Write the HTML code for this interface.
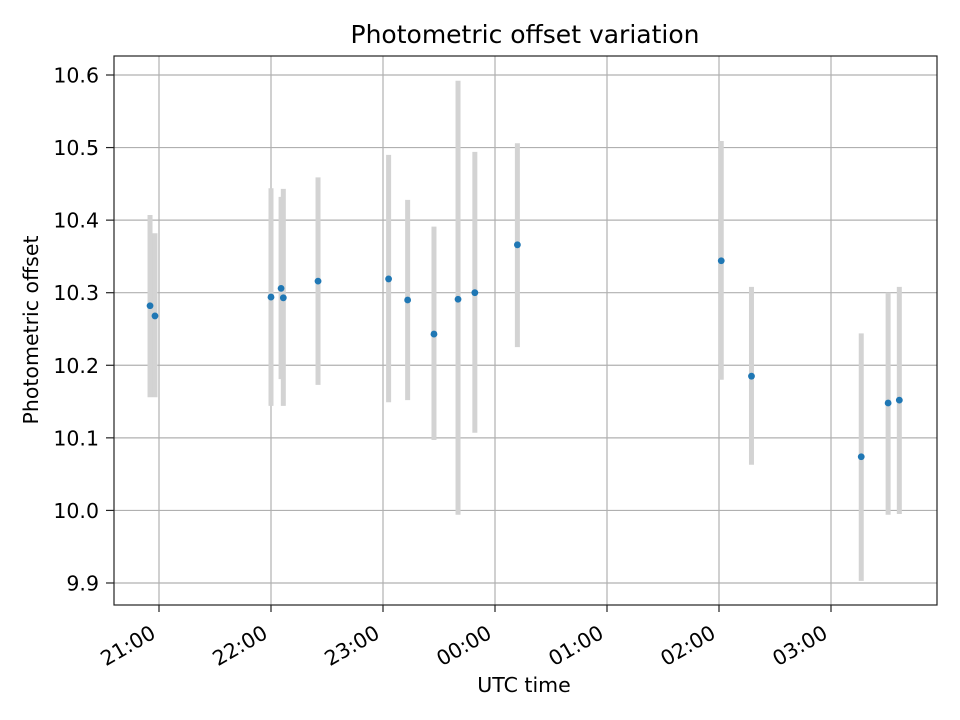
<!DOCTYPE html>
<html><head><meta charset="utf-8"><style>
body{margin:0;background:#fff;}
svg{display:block;font-family:"DejaVu Sans","Liberation Sans",sans-serif;}
</style></head><body>
<svg id="chart" width="960" height="720">
<rect width="960" height="720" fill="#fff"/>
<text x="525" y="43" font-size="25" text-anchor="middle">Photometric offset variation</text>
<g id="grid"></g><g id="bars"></g><g id="pts"></g><g id="axes"></g>
<rect x="114" y="56" width="823" height="549" fill="none" stroke="#222" stroke-width="1.2"/>
<text x="524" y="692" font-size="20.5" text-anchor="middle">UTC time</text>
<text transform="translate(38,330) rotate(-90)" font-size="20.5" text-anchor="middle">Photometric offset</text>
</svg>
<script>
// hours after 21:00 UTC
const times=[-0.08,-0.036,1.0,1.09,1.11,1.42,2.05,2.22,2.455,2.67,2.82,3.2,5.02,5.29,6.27,6.51,6.61];
const values=[10.282,10.268,10.294,10.306,10.293,10.316,10.319,10.29,10.243,10.291,10.3,10.366,10.344,10.185,10.074,10.148,10.152];
const lows=[10.156,10.156,10.144,10.181,10.144,10.173,10.149,10.152,10.097,9.994,10.107,10.225,10.18,10.063,9.903,9.994,9.995];
const highs=[10.407,10.382,10.444,10.432,10.443,10.459,10.49,10.428,10.391,10.592,10.494,10.506,10.509,10.308,10.244,10.3,10.308];
const yTicks=[9.9,10.0,10.1,10.2,10.3,10.4,10.5,10.6];
const xTicks=[0,1,2,3,4,5,6];
const xTickLabels=["21:00","22:00","23:00","00:00","01:00","02:00","03:00"];
const X=h=>159+h*112;
const Y=v=>75+(10.6-v)*725.7;
const NS="http://www.w3.org/2000/svg";
function mk(tag,attrs,parent){const e=document.createElementNS(NS,tag);for(const k in attrs)e.setAttribute(k,attrs[k]);parent.appendChild(e);return e;}
const grid=document.getElementById('grid'),axes=document.getElementById('axes'),bars=document.getElementById('bars'),pts=document.getElementById('pts');
yTicks.forEach(v=>{
  const y=Y(v);
  const g=mk('line',{x1:114,x2:937,y1:y,y2:y,stroke:'#b0b0b0','stroke-width':1.2},grid);
  
  
  mk('line',{x1:106,x2:114,y1:y,y2:y,stroke:'#222','stroke-width':1.2},axes);
  const t=mk('text',{x:99,y:y+7.5,'font-size':20.5,'text-anchor':'end'},axes);
  t.textContent=v.toFixed(1);
  
  
});
xTicks.forEach((h,i)=>{
  const x=X(h);
  const g=mk('line',{x1:x,x2:x,y1:56,y2:605,stroke:'#b0b0b0','stroke-width':1.2},grid);
  
  
  mk('line',{x1:x,x2:x,y1:605,y2:612,stroke:'#222','stroke-width':1.2},axes);
  const t=mk('text',{transform:`translate(${x-2},637) rotate(-30)`,'font-size':20.5,'text-anchor':'end'},axes);
  t.textContent=xTickLabels[i];
  
  
});
times.forEach((h,i)=>{
  const b=mk('line',{x1:X(h),x2:X(h),y1:Y(highs[i]),y2:Y(lows[i]),stroke:'#d3d3d3','stroke-width':5},bars);
  
  
  const c=mk('circle',{cx:X(h),cy:Y(values[i]),r:3.4,fill:'#1f77b4'},pts);
  
  
});
</script>
</body></html>
